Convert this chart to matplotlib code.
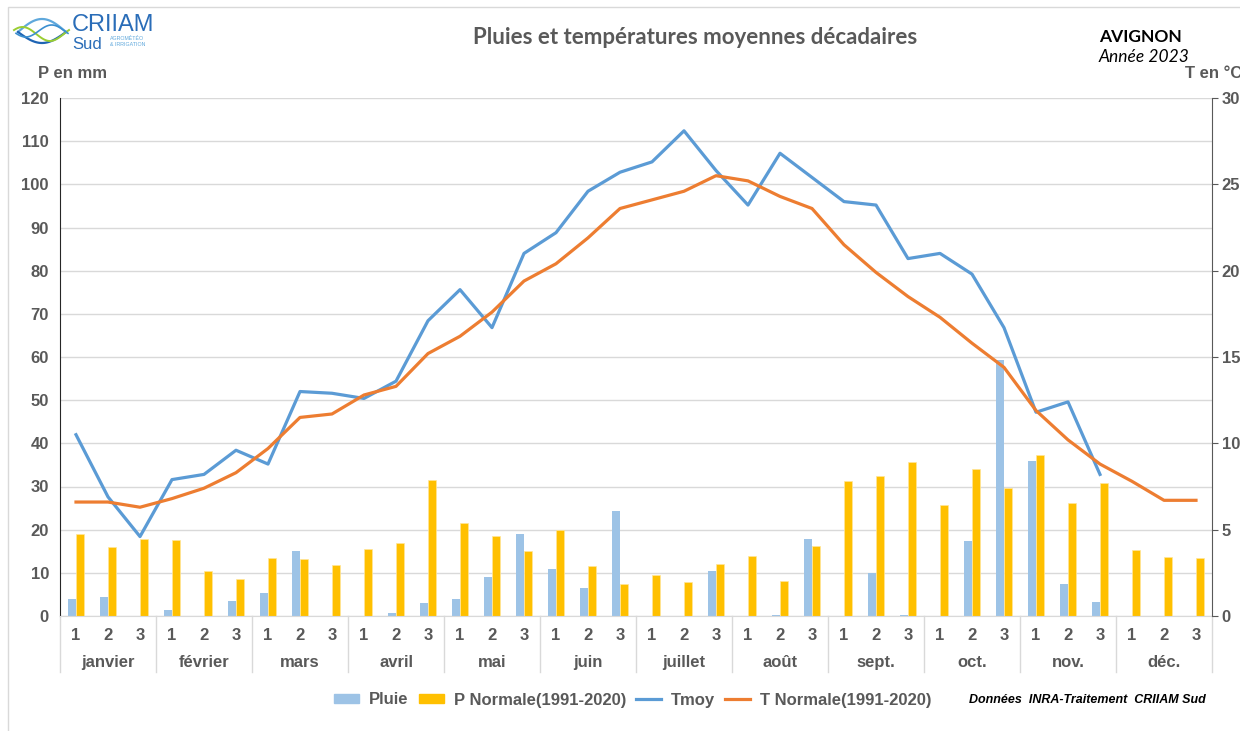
import numpy as np
import matplotlib
matplotlib.use("Agg")
import matplotlib.pyplot as plt
from matplotlib.patches import Patch, Rectangle
from matplotlib.lines import Line2D
import matplotlib.transforms as mtransforms

# ---- data (décades) ----
months = ['janvier', 'février', 'mars', 'avril', 'mai', 'juin', 'juillet',
          'août', 'sept.', 'oct.', 'nov.', 'déc.']
dekads = ['1', '2', '3']

pluie = [4.0, 4.5, 0, 1.3, 0, 3.4, 5.4, 15.0, 0, 0, 0.8, 2.9,
         3.9, 9.0, 19.0, 10.9, 6.5, 24.4, 0, 0, 10.4, 0, 0.3, 17.9,
         0, 9.9, 0.3, 0, 17.4, 59.3, 35.9, 7.4, 3.2, 0, 0, 0]
p_normale = [19.1, 16.0, 17.9, 17.5, 10.4, 8.6, 13.4, 13.2, 11.7, 15.6, 16.8, 31.6,
             21.5, 18.5, 15.1, 19.9, 11.6, 7.5, 9.4, 7.8, 12.1, 13.9, 8.0, 16.2,
             31.3, 32.4, 35.7, 25.6, 34.1, 29.7, 37.2, 26.1, 30.7, 15.4, 13.7, 13.4]
tmoy = [10.5, 6.9, 4.6, 7.9, 8.2, 9.6, 8.8, 13.0, 12.9, 12.6, 13.6, 17.1,
        18.9, 16.7, 21.0, 22.2, 24.6, 25.7, 26.3, 28.1, 25.8, 23.8, 26.8, 25.4,
        24.0, 23.8, 20.7, 21.0, 19.8, 16.7, 11.8, 12.4, 8.2]
t_normale = [6.6, 6.6, 6.3, 6.8, 7.4, 8.3, 9.7, 11.5, 11.7, 12.8, 13.3, 15.2,
             16.2, 17.6, 19.4, 20.4, 21.9, 23.6, 24.1, 24.6, 25.5, 25.2, 24.3, 23.6,
             21.5, 19.9, 18.5, 17.3, 15.8, 14.4, 11.9, 10.2, 8.8, 7.8, 6.7, 6.7]

c_pluie = '#9DC3E6'
c_pnorm = '#FFC000'
c_tmoy = '#5B9BD5'
c_tnorm = '#ED7D31'
grey = '#595959'

fig = plt.figure(figsize=(12.4, 7.31), dpi=100)
ax = fig.add_axes([60 / 1240, 1 - 616 / 731, 1152 / 1240, 518 / 731])
ax2 = ax.twinx()

x = np.arange(len(p_normale))
w = 0.24
ax.bar(x - w / 2, pluie, w, color=c_pluie, zorder=2)
ax.bar(x + w / 2, p_normale, w, color=c_pnorm, edgecolor='#FFE699', linewidth=0.5, zorder=2)

ax2.plot(np.arange(len(tmoy)), tmoy, color=c_tmoy, lw=2.3)
ax2.plot(x, t_normale, color=c_tnorm, lw=2.3)

ax.set_xlim(-0.5, 35.5)
ax.set_ylim(0, 120)
ax2.set_ylim(0, 30)
ax.set_yticks(range(0, 121, 10))
ax2.set_yticks(range(0, 31, 5))
ax.yaxis.grid(True, color='#D9D9D9', lw=1)
ax.set_axisbelow(True)

lab = dict(fontsize=12, fontweight='bold', color=grey, family='Liberation Sans')
ax.set_xticks(x)
ax.set_xticklabels(dekads * 12, **lab)
ax.tick_params(axis='x', length=0, pad=9)
ax.tick_params(axis='y', length=0, pad=8)
ax2.tick_params(axis='y', length=4, direction='out', color=grey, pad=3)
for t in ax.get_yticklabels() + ax2.get_yticklabels():
    t.set_fontsize(12)
    t.set_fontweight('bold')
    t.set_color(grey)
    t.set_family('Liberation Sans')

ax.spines['top'].set_visible(False)
ax2.spines['top'].set_visible(False)
ax.spines['bottom'].set_color('#D9D9D9')
ax2.spines['bottom'].set_visible(False)
ax.spines['left'].set_color('#262626')
ax2.spines['left'].set_visible(False)
ax.spines['right'].set_visible(False)
ax2.spines['right'].set_color(grey)

# month labels and separators
trans = mtransforms.blended_transform_factory(ax.transData, ax.transAxes)
for i, m in enumerate(months):
    ax.text(3 * i + 1, -0.089, m, transform=trans, ha='center', va='center', **lab)
for k in range(13):
    ax.plot([3 * k - 0.5, 3 * k - 0.5], [0, -0.108], transform=trans,
            color='#D9D9D9', lw=1, clip_on=False)

# axis titles and headers
fig.text(73 / 1240, 1 - 74 / 731, 'P en mm', ha='center', va='center', **lab)
fig.text(1185 / 1240, 1 - 74 / 731, 'T en °C', ha='left', va='center', **lab)
fig.text(695 / 1240, 1 - 38 / 731, 'Pluies et températures moyennes décadaires',
         ha='center', va='center', fontsize=16, fontweight='bold', color=grey, family='Lato')
fig.text(1140 / 1240, 1 - 37 / 731, 'AVIGNON', ha='center', va='center',
         fontsize=12.5, fontweight='bold', color='black', family='Lato')
fig.text(1144 / 1240, 1 - 57 / 731, 'Année 2023', ha='center', va='center',
         fontsize=12.5, style='italic', color='black', family='Lato')

# legend
handles = [Patch(color=c_pluie), Patch(color=c_pnorm),
           Line2D([], [], color=c_tmoy, lw=2.3), Line2D([], [], color=c_tnorm, lw=2.3)]
names = ['Pluie', 'P Normale(1991-2020)', 'Tmoy', 'T Normale(1991-2020)']
leg = fig.legend(handles, names, loc='center', bbox_to_anchor=(633 / 1240, 1 - 700 / 731),
                 ncol=4, frameon=False, handlelength=1.5, handleheight=0.5,
                 handletextpad=0.6, columnspacing=0.6,
                 prop=dict(size=12, weight='bold', family='Liberation Sans'))
for t in leg.get_texts():
    t.set_color(grey)
fig.text(1087 / 1240, 1 - 700 / 731, 'Données  INRA-Traitement  CRIIAM Sud', ha='center',
         va='center', fontsize=9, fontweight='bold', style='italic', color='black',
         family='Liberation Sans')

# outer frame
fig.add_artist(Rectangle((8 / 1240, -0.1), 1.2, 1 - 7 / 731 + 0.1, transform=fig.transFigure,
                         fill=False, edgecolor='#D9D9D9', lw=1))

# logo
lg = fig.add_axes([12 / 1240, 1 - 52 / 731, 60 / 1240, 40 / 731])
lg.set_xlim(0, 60)
lg.set_ylim(0, 40)
lg.axis('off')
t = np.linspace(0, 1, 60)
lg.plot(6 + 48 * t, 20 + 13 * np.sin(np.pi * t), color='#5FA8DC', lw=1.6)
lg.plot(6 + 48 * t, 20 - 11 * np.sin(np.pi * t), color='#1E64B4', lw=1.6)
lg.plot(2 + 55 * t, 18 + 7 * np.sin(2 * np.pi * t + 0.6), color='#9ACD32', lw=1.4)
lg.plot(4 + 52 * t, 21 - 6 * np.sin(2 * np.pi * t + 0.4), color='#3B8FD0', lw=1.2)
fig.text(72 / 1240, 1 - 31 / 731, 'CRIIAM', ha='left', va='baseline', fontsize=17,
         color='#2A6DB8', family='Liberation Sans')
fig.text(72 / 1240, 1 - 37 / 731, 'Sud', ha='left', va='top', fontsize=12,
         color='#2A6DB8', family='Liberation Sans')
fig.text(110 / 1240, 1 - 38 / 731, 'AGROMÉTÉO', ha='left', va='center', fontsize=3.8,
         color='#5FA8DC', family='Liberation Sans')
fig.text(110 / 1240, 1 - 44 / 731, '& IRRIGATION', ha='left', va='center', fontsize=3.8,
         color='#5FA8DC', family='Liberation Sans')

fig.savefig('out.png', dpi=100)
